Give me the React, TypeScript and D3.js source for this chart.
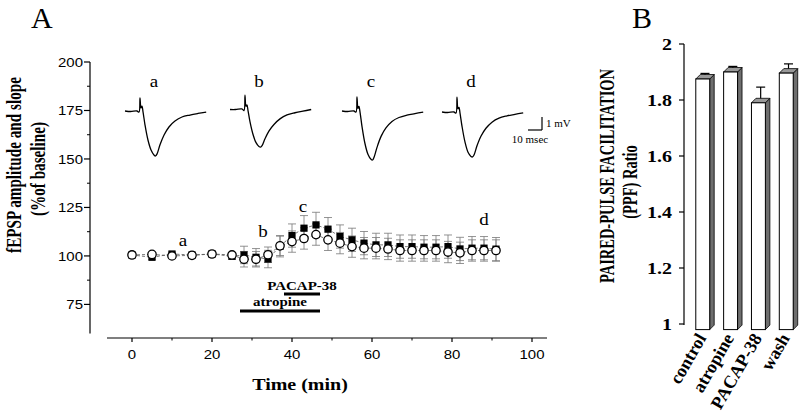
import React from 'react';
import * as d3 from 'd3';

// ---------- Panel A data ----------
const TIME_MIN = [0, 5, 10, 15, 20, 25, 28, 31, 34, 37, 40, 43, 46, 49, 52, 55, 58, 61, 64, 67, 70, 73, 76, 79, 82, 85, 88, 91];
const SLOPE = [100.5, 99.3, 101, 100.5, 101, 99.8, 100.5, 99.3, 98.4, 105, 110.5, 114.3, 116, 113.8, 110, 108.3, 106.6, 105.7, 105.7, 104.8, 104.8, 104.5, 104.5, 104.8, 103.6, 104, 104, 103.5];
const SLOPE_SEM = [1.2, 1, 1, 1, 1, 1.5, 4.5, 4.5, 4.5, 5.5, 6, 6.5, 6.5, 6, 6, 6, 6, 6, 6, 6, 6, 6, 6, 6, 6, 6, 6, 6];
const AMPLITUDE = [100.5, 100.8, 100, 100.3, 101, 100.5, 98.3, 98.3, 100.6, 105.2, 107.4, 109, 111, 108.3, 106.6, 104.8, 104, 104, 103.6, 102.8, 102.8, 102.8, 102.8, 102, 101.6, 102.8, 102.8, 102.8];
const AMPLITUDE_SEM = [1, 1, 1, 1, 1, 1.2, 4, 4, 4, 5, 5.5, 5.5, 5.5, 5.5, 5.5, 5.5, 5.5, 5.5, 5.5, 5.5, 5.5, 5.5, 5.5, 5.5, 5.5, 5.5, 5.5, 5.5];
const X_TICKS = [0, 20, 40, 60, 80, 100];
const X_MINOR = [10, 30, 50, 70, 90];
const Y_TICKS = [75, 100, 125, 150, 175, 200];
const Y_MINOR = [87.5, 112.5, 137.5, 162.5, 187.5];
const POINT_LABELS = ['a', 'b', 'c', 'd'];
const POINT_LABEL_T = [12.75, 32.75, 42.75, 88];
const POINT_LABEL_V = [107.7, 112.4, 125.3, 118.6];
const DRUG_NAMES = ['PACAP-38', 'atropine'];
const DRUG_START = [38, 27];
const DRUG_END = [47, 47];

// Representative fEPSP traces (ms, mV)
const TRACE_MS = [0, 4, 8.5, 10, 10.7, 11.4, 12.1, 12.9, 14.3, 16.4, 18.6, 20.7, 21.8, 22.9, 25, 27.9, 31.4, 35.7, 40.7, 46.4, 52.1, 58];
const TRACE_A = [0, -0.04, 0, -0.08, 1.0, 0.23, 0.38, -0.08, -1.08, -2.23, -3.0, -3.38, -3.46, -3.3, -2.6, -1.85, -1.23, -0.77, -0.46, -0.31, -0.19, -0.08];
const TRACE_B = [0, 0.0, 0.04, -0.08, 1.1, 0.25, 0.35, -0.1, -0.95, -1.9, -2.55, -2.85, -2.9, -2.78, -2.25, -1.65, -1.15, -0.72, -0.42, -0.25, -0.12, 0.0];
const TRACE_C = [0, -0.04, 0, -0.08, 1.08, 0.2, 0.35, -0.1, -1.2, -2.5, -3.35, -3.72, -3.77, -3.55, -2.8, -1.95, -1.3, -0.8, -0.5, -0.32, -0.2, -0.08];
const TRACE_D = [0, -0.04, 0, -0.08, 1.15, 0.25, 0.35, -0.1, -1.1, -2.3, -3.1, -3.42, -3.46, -3.3, -2.6, -1.85, -1.25, -0.78, -0.47, -0.3, -0.18, -0.06];
const TRACES = [TRACE_A, TRACE_B, TRACE_C, TRACE_D];

// ---------- Panel B data ----------
const PPF_CATEGORIES = ['control', 'atropine', 'PACAP-38', 'wash'];
const PPF_RATIO = [1.875, 1.9, 1.79, 1.896];
const PPF_SEM = [0.02, 0.02, 0.056, 0.033];
const PPF_TICKS = [1, 1.2, 1.4, 1.6, 1.8, 2];

// ---------- layout ----------
const W = 800;
const H = 414;
const SQ = 0.88; // slight vertical squish of lettering in the original scan
const SERIF = '"Liberation Serif", "Times New Roman", serif';
const SANS = '"Liberation Sans", Arial, sans-serif';

const xA = d3.scaleLinear().domain([-6.25, 103.75]).range([107, 547]);
const yA = d3.scaleLinear().domain([60, 200]).range([333.5, 62]);
const Y_AXIS_X = 90;
const X_AXIS_Y = 338;

const TRACE_START_X = [125, 230, 342, 442];
const TRACE_BASE_Y = [111, 109.5, 111, 112];
const trX = d3.scaleLinear().domain([0, 10]).range([0, 14]);
const trY = d3.scaleLinear().domain([0, 1]).range([0, -13]);

const yB = d3.scaleLinear().domain([1, 2]).range([324, 44]);
const xB = d3.scaleBand().domain(PPF_CATEGORIES).range([693, 796]).paddingInner(0.5).paddingOuter(0.1);
const B_AXIS_X = 684;
const BAR_BASE = 0.98;
const DEPTH = 4.5;

function SText(props: {
  x: number; y: number; size: number; weight?: string | number; anchor?: string;
  family?: string; sq?: number; rotate?: number; children: React.ReactNode;
}) {
  const { x, y, size, weight = 'normal', anchor = 'start', family = SERIF, sq = SQ, rotate = 0, children } = props;
  return (
    <g transform={`translate(${x},${y}) scale(1,${sq})${rotate ? ` rotate(${rotate})` : ''}`}>
      <text fontFamily={family} fontSize={size} fontWeight={weight} textAnchor={anchor} fill="#000">
        {children}
      </text>
    </g>
  );
}

export default function App() {
  const seriesLine = d3
    .line<number>()
    .x((_, i) => xA(TIME_MIN[i]))
    .y((d) => yA(d));
  const traceLine = d3
    .line<number>()
    .x((_, i) => trX(TRACE_MS[i]))
    .y((d) => trY(d))
    .curve(d3.curveCatmullRom.alpha(0.5));

  const errBars = (vals: number[], sems: number[], key: string) =>
    vals.map((v, i) => {
      const x = xA(TIME_MIN[i]);
      const y1 = yA(v + sems[i]);
      const y0 = yA(v - sems[i]);
      return (
        <g key={`${key}${i}`} stroke="#777" strokeWidth={0.8}>
          <line x1={x} x2={x} y1={y1} y2={y0} />
          <line x1={x - 4} x2={x + 4} y1={y1} y2={y1} />
          <line x1={x - 4} x2={x + 4} y1={y0} y2={y0} />
        </g>
      );
    });

  return (
    <svg width={W} height={H} style={{ position: 'absolute', left: 0, top: 0, background: '#fff' }}>
      <rect x={0} y={0} width={W} height={H} fill="#fff" />

      {/* ===== Panel A ===== */}
      <text x={31} y={28} fontFamily={SERIF} fontSize={30} fill="#000">A</text>

      {/* y axis */}
      <line x1={Y_AXIS_X} x2={Y_AXIS_X} y1={yA(200)} y2={yA(60)} stroke="#000" strokeWidth={1.2} />
      {Y_TICKS.map((t) => (
        <g key={`yt${t}`}>
          <line x1={Y_AXIS_X - 6} x2={Y_AXIS_X} y1={yA(t)} y2={yA(t)} stroke="#000" strokeWidth={1.2} />
          <SText x={Y_AXIS_X - 7} y={yA(t) + 5} size={15} family={SANS} anchor="end">{t}</SText>
        </g>
      ))}
      {Y_MINOR.map((t) => (
        <line key={`ym${t}`} x1={Y_AXIS_X - 3} x2={Y_AXIS_X} y1={yA(t)} y2={yA(t)} stroke="#000" strokeWidth={1} />
      ))}

      {/* x axis */}
      <line x1={xA(-6.25)} x2={xA(103.75)} y1={X_AXIS_Y} y2={X_AXIS_Y} stroke="#000" strokeWidth={1.2} />
      {X_TICKS.map((t) => (
        <g key={`xt${t}`}>
          <line x1={xA(t)} x2={xA(t)} y1={X_AXIS_Y} y2={X_AXIS_Y + 4} stroke="#000" strokeWidth={1.2} />
          <SText x={xA(t)} y={359} size={15} family={SANS} anchor="middle">{t}</SText>
        </g>
      ))}
      {X_MINOR.map((t) => (
        <line key={`xm${t}`} x1={xA(t)} x2={xA(t)} y1={X_AXIS_Y} y2={X_AXIS_Y + 2.5} stroke="#000" strokeWidth={1} />
      ))}
      <SText x={300} y={390} size={20} weight="bold" anchor="middle">Time (min)</SText>

      {/* y label */}
      <SText x={21} y={165} size={22} weight="bold" anchor="middle" rotate={-90} sq={0.69}>fEPSP amplitude and slope</SText>
      <SText x={45} y={169} size={22} weight="bold" anchor="middle" rotate={-90} sq={0.69}>(%of baseline)</SText>

      {/* traces */}
      {TRACES.map((tr, k) => (
        <g key={`tr${k}`} transform={`translate(${TRACE_START_X[k]},${TRACE_BASE_Y[k]})`}>
          <path d={traceLine(tr) || ''} fill="none" stroke="#000" strokeWidth={1.3} strokeLinejoin="round" />
        </g>
      ))}
      {POINT_LABELS.map((l, k) => (
        <SText key={`tl${l}`} x={TRACE_START_X[k] + trX(TRACE_MS[11])} y={87} size={19} anchor="middle">{l}</SText>
      ))}
      {/* scale bar */}
      <g transform="translate(542,130)" stroke="#000" strokeWidth={1.2}>
        <line x1={0} x2={0} y1={trY(0)} y2={trY(1)} />
        <line x1={-trX(10)} x2={0} y1={0} y2={0} />
      </g>
      <SText x={546} y={127} size={11}>1 mV</SText>
      <SText x={530} y={143} size={11} anchor="middle">10 msec</SText>

      {/* time course */}
      {errBars(SLOPE, SLOPE_SEM, 's')}
      {errBars(AMPLITUDE, AMPLITUDE_SEM, 'a')}
      <path d={seriesLine(SLOPE) || ''} fill="none" stroke="#555" strokeWidth={0.8} strokeDasharray="3,2" />
      <path d={seriesLine(AMPLITUDE) || ''} fill="none" stroke="#555" strokeWidth={0.8} strokeDasharray="3,2" />
      {SLOPE.map((v, i) => (
        <rect key={`sq${i}`} x={xA(TIME_MIN[i]) - 3.6} y={yA(v) - 3.6} width={7.2} height={7.2} fill="#000" />
      ))}
      {AMPLITUDE.map((v, i) => (
        <circle key={`ci${i}`} cx={xA(TIME_MIN[i])} cy={yA(v)} r={4.2} fill="#fff" stroke="#000" strokeWidth={1.3} />
      ))}
      {POINT_LABELS.map((l, k) => (
        <SText key={`pl${l}`} x={xA(POINT_LABEL_T[k])} y={yA(POINT_LABEL_V[k]) + 5} size={19} anchor="middle">{l}</SText>
      ))}

      {/* drug application bars */}
      {DRUG_NAMES.map((n, k) => {
        const yBar = k === 0 ? 294 : 311;
        const yTxt = k === 0 ? 290 : 306;
        const cx = k === 0 ? 302 : 280;
        return (
          <g key={`drug${k}`}>
            <line x1={xA(DRUG_START[k])} x2={xA(DRUG_END[k])} y1={yBar} y2={yBar} stroke="#000" strokeWidth={3} />
            <SText x={cx} y={yTxt} size={15} weight="bold" anchor="middle">{n}</SText>
          </g>
        );
      })}

      {/* ===== Panel B ===== */}
      <text x={632} y={28} fontFamily={SERIF} fontSize={30} fill="#000">B</text>
      <line x1={B_AXIS_X} x2={B_AXIS_X} y1={yB(2)} y2={yB(1) + 1} stroke="#000" strokeWidth={1.2} />
      {PPF_TICKS.map((t) => (
        <g key={`bt${t}`}>
          <line x1={B_AXIS_X - 5} x2={B_AXIS_X} y1={yB(t)} y2={yB(t)} stroke="#000" strokeWidth={1.2} />
          <SText x={672} y={yB(t) + 6} size={20} weight="bold" anchor="end">{d3.format('')(t)}</SText>
        </g>
      ))}
      <SText x={614} y={176} size={21} weight="bold" anchor="middle" rotate={-90} sq={0.69}>PAIRED-PULSE FACILITATION</SText>
      <SText x={637} y={182} size={21} weight="bold" anchor="middle" rotate={-90} sq={0.69}>(PPF) Ratio</SText>

      {PPF_CATEGORIES.map((c, i) => {
        const x0 = xB(c) as number;
        const bw = xB.bandwidth();
        const x1 = x0 + bw;
        const yt = yB(PPF_RATIO[i]);
        const yb = yB(BAR_BASE);
        const ex = x0 + bw / 2 + DEPTH / 2;
        const ey0 = yt - DEPTH / 2;
        const ey1 = yB(PPF_RATIO[i] + PPF_SEM[i]);
        return (
          <g key={`bar${c}`}>
            <line x1={ex} x2={ex} y1={ey0} y2={ey1} stroke="#000" strokeWidth={1.2} />
            <line x1={ex - 4.5} x2={ex + 4.5} y1={ey1} y2={ey1} stroke="#000" strokeWidth={1.2} />
            <polygon
              points={`${x1},${yt} ${x1 + DEPTH},${yt - DEPTH} ${x1 + DEPTH},${yb - DEPTH} ${x1},${yb}`}
              fill="#6e6e6e" stroke="#000" strokeWidth={0.8}
            />
            <polygon
              points={`${x0},${yt} ${x0 + DEPTH},${yt - DEPTH} ${x1 + DEPTH},${yt - DEPTH} ${x1},${yt}`}
              fill="#999" stroke="#000" strokeWidth={0.8}
            />
            <rect x={x0} y={yt} width={bw} height={yb - yt} fill="#fff" stroke="#000" strokeWidth={1} />
            <text
              transform={`translate(${x0 + bw / 2 + 4},${338}) rotate(-60)`}
              fontFamily={SERIF} fontSize={18} fontWeight="bold" textAnchor="end" fill="#000"
            >
              {c}
            </text>
          </g>
        );
      })}
    </svg>
  );
}
